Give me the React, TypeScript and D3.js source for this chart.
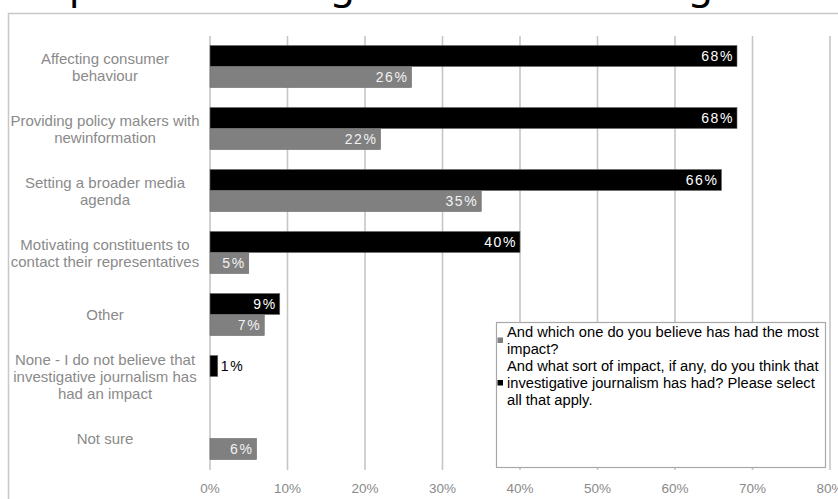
import React from "react";
import * as d3 from "d3";

const categories = [
  "Affecting consumer behaviour",
  "Providing policy makers with new information",
  "Setting a broader media agenda",
  "Motivating constituents to contact their representatives",
  "Other",
  "None - I do not believe that investigative journalism has had an impact",
  "Not sure",
];
const categoryLines = [
  ["Affecting consumer", "behaviour"],
  ["Providing policy makers with", "newinformation"],
  ["Setting a broader media", "agenda"],
  ["Motivating constituents to", "contact their representatives"],
  ["Other"],
  ["None - I do not believe that", "investigative journalism has", "had an impact"],
  ["Not sure"],
];
const seriesKeys = ["all", "most"];
const allThatApply = [68, 68, 66, 40, 9, 1, 0];
const mostImpact = [26, 22, 35, 5, 7, 0, 6];
const xTicks = [0, 10, 20, 30, 40, 50, 60, 70, 80];
const legendMost = ["And which one do you believe has had the most", "impact?"];
const legendAll = [
  "And what sort of impact, if any, do you think that",
  "investigative journalism has had? Please select",
  "all that apply.",
];
const title = "Impact of investigative media: the agenda";

const W = 838;
const H = 499;
const FONT = "'Liberation Sans', Arial, sans-serif";

export default function App() {
  const x = d3.scaleLinear().domain([0, 80]).range([210, 830]);
  const y = d3.scaleBand<string>().domain(categories).range([36, 470]);
  const inner = d3
    .scaleBand<string>()
    .domain(seriesKeys)
    .range([9.5, 51.5]);
  const colors: Record<string, string> = { all: "#000000", most: "#808080" };
  const values: Record<string, number[]> = { all: allThatApply, most: mostImpact };
  const bandCenter = (c: string) => (y(c) as number) + y.bandwidth() / 2;

  return (
    <svg
      width={W}
      height={H}
      style={{ position: "absolute", left: 0, top: 0, background: "#fff" }}
      fontFamily={FONT}
    >
      <rect x={0} y={0} width={W} height={H} fill="#fff" />
      <text
        x={18}
        y={-2}
        fontSize={40}
        fontFamily="'Noto Sans', sans-serif"
        fill="#000"
      >
        {title}
      </text>
      <rect
        x={8.5}
        y={13.5}
        width={W + 10}
        height={H + 10}
        fill="none"
        stroke="#c8c8c8"
        strokeWidth={1.5}
      />
      {xTicks.map((t) => (
        <line
          key={t}
          x1={x(t)}
          x2={x(t)}
          y1={36}
          y2={470}
          stroke="#c6c6c6"
          strokeWidth={1.6}
        />
      ))}
      {xTicks.map((t) => (
        <text
          key={"l" + t}
          x={x(t)}
          y={493}
          textAnchor="middle"
          fontSize={13.5}
          fill="#8a8a8a"
        >
          {t + "%"}
        </text>
      ))}
      {categories.map((c, i) =>
        seriesKeys.map((k) => {
          const v = values[k][i];
          if (!v) return null;
          const by = (y(c) as number) + (inner(k) as number);
          const bh = inner.bandwidth();
          const inside = v >= 3;
          return (
            <g key={c + k}>
              <rect
                x={x(0)}
                y={by}
                width={x(v) - x(0)}
                height={bh}
                fill={colors[k]}
                stroke="#6a6a6a"
                strokeWidth={0.6}
              />
              <text
                x={inside ? x(v) - 3 : x(v) + 3}
                y={by + bh / 2 + 5}
                textAnchor={inside ? "end" : "start"}
                fontSize={14}
                letterSpacing={1.6}
                fill={inside ? (k === "all" ? "#ffffff" : "#f2f2f2") : "#000"}
              >
                {v + "%"}
              </text>
            </g>
          );
        })
      )}
      {categories.map((c, i) => {
        const lines = categoryLines[i];
        const cy = bandCenter(c);
        const lh = 17;
        const start = cy - ((lines.length - 1) * lh) / 2 + 5;
        return (
          <text
            key={"c" + c}
            textAnchor="middle"
            fontSize={15}
            fill="#8a8a8a"
          >
            {lines.map((ln, j) => (
              <tspan key={j} x={105} y={start + j * lh}>
                {ln}
              </tspan>
            ))}
          </text>
        );
      })}
      <g>
        <rect
          x={496.5}
          y={322.5}
          width={329}
          height={145}
          fill="#fff"
          stroke="#a8a8a8"
          strokeWidth={1.2}
        />
        <rect x={497.5} y={337.5} width={5.5} height={5.5} fill="#808080" />
        <text fontSize={14.7} fill="#000">
          {legendMost.map((ln, j) => (
            <tspan key={j} x={507} y={337 + j * 17}>
              {ln}
            </tspan>
          ))}
        </text>
        <rect x={497.5} y={380} width={5.5} height={5.5} fill="#000" />
        <text fontSize={14.7} fill="#000">
          {legendAll.map((ln, j) => (
            <tspan key={j} x={507} y={371 + j * 17}>
              {ln}
            </tspan>
          ))}
        </text>
      </g>
    </svg>
  );
}
